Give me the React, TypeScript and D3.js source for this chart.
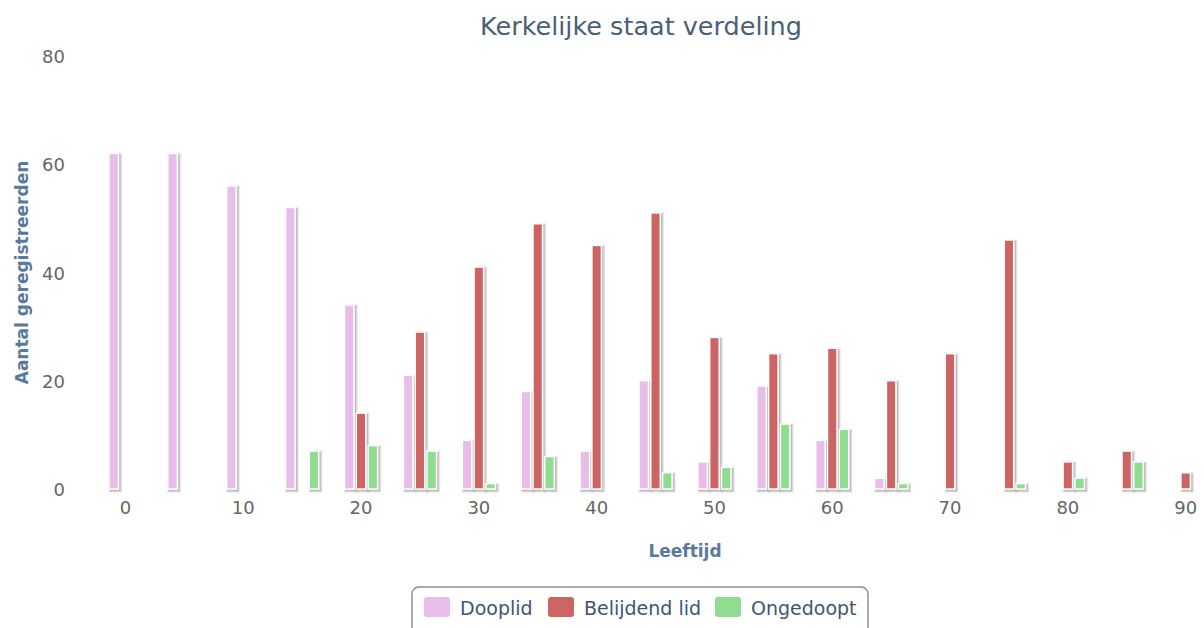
import React from "react";
import * as d3 from "d3";

const categories = ["0","5","10","15","20","25","30","35","40","45","50","55","60","65","70","75","80","85","90","95"];
const xTickLabels = ["0","10","20","30","40","50","60","70","80","90"];
const yTicks = [0, 20, 40, 60, 80];
const seriesNames = ["Dooplid", "Belijdend lid", "Ongedoopt"];
const seriesColors = ["#E8BEE8", "#CC6464", "#90DC90"];
const dooplid = [62,62,56,52,34,21,9,18,7,20,5,19,9,2,null,null,null,null,null,null];
const belijdend = [null,null,null,null,14,29,41,49,45,51,28,25,26,20,25,46,5,7,3,null];
const ongedoopt = [null,null,null,7,8,7,1,6,null,3,4,12,11,1,null,1,2,5,null,null];

const W = 1204, H = 628;
const plotLeft = 96, plotRight = 1274, plotTop = 56, plotBottom = 489;

export default function App() {
  const series = [dooplid, belijdend, ongedoopt];
  const x = d3.scaleBand<string>().domain(categories).range([plotLeft, plotRight]);
  const bw = x.bandwidth();
  const groupPad = 0.2 * bw;
  const x1 = d3.scaleBand<number>().domain([0, 1, 2]).range([groupPad, bw - groupPad]);
  const slot = x1.bandwidth();
  const barW = slot * 0.8;
  const y = d3.scaleLinear().domain([0, 80]).range([plotBottom, plotTop]);
  const font = "'DejaVu Sans', Verdana, sans-serif";
  const legendX = [424, 548, 715];

  return (
    <div style={{ position: "absolute", left: 0, top: 0 }}>
      <svg width={W} height={H} style={{ display: "block", fontFamily: font }}>
        <rect width={W} height={H} fill="#fff" />
        <text x={641} y={35} textAnchor="middle" fontSize={25.5} fill="#4A6078">Kerkelijke staat verdeling</text>
        {yTicks.map((t) => (
          <text key={t} x={65} y={y(t) + 7} textAnchor="end" fontSize={18} fill="#666">{t}</text>
        ))}
        <text transform={`translate(28,${(plotTop + plotBottom) / 2}) rotate(-90)`} textAnchor="middle" fontSize={17} fontWeight="bold" fill="#5A7A9C">Aantal geregistreerden</text>
        {xTickLabels.map((l) => (
          <text key={l} x={(x(l) as number) + bw / 2} y={514} textAnchor="middle" fontSize={18} fill="#666">{l}</text>
        ))}
        <text x={(plotLeft + plotRight) / 2} y={557} textAnchor="middle" fontSize={17} fontWeight="bold" fill="#5A7A9C">Leeftijd</text>
        {series.map((vals, si) => (
          <g key={si}>
            {vals.map((v, ci) => {
              if (v === null || v === undefined) return null;
              const bx = (x(categories[ci]) as number) + (x1(si) as number) + (slot - barW) / 2;
              const by = y(v);
              const h = y(0) - by;
              return (
                <g key={ci}>
                  <g transform="translate(1.6,1.6)" fill="none" stroke="#000">
                    <rect x={bx} y={by} width={barW} height={h} strokeWidth={5} strokeOpacity={0.05} />
                    <rect x={bx} y={by} width={barW} height={h} strokeWidth={3} strokeOpacity={0.1} />
                    <rect x={bx} y={by} width={barW} height={h} strokeWidth={1} strokeOpacity={0.15} />
                  </g>
                  <rect x={bx} y={by} width={barW} height={h} fill={seriesColors[si]} stroke="#fff" strokeWidth={1.4} />
                </g>
              );
            })}
          </g>
        ))}
        <rect x={412} y={587} width={456} height={50} rx={7} fill="#fff" stroke="#909090" strokeWidth={1.5} />
        {seriesNames.map((n, i) => (
          <g key={n}>
            <rect x={legendX[i]} y={597} width={26} height={20} rx={3} fill={seriesColors[i]} />
            <text x={legendX[i] + 36} y={615} fontSize={19} fill="#3E576F">{n}</text>
          </g>
        ))}
      </svg>
    </div>
  );
}
